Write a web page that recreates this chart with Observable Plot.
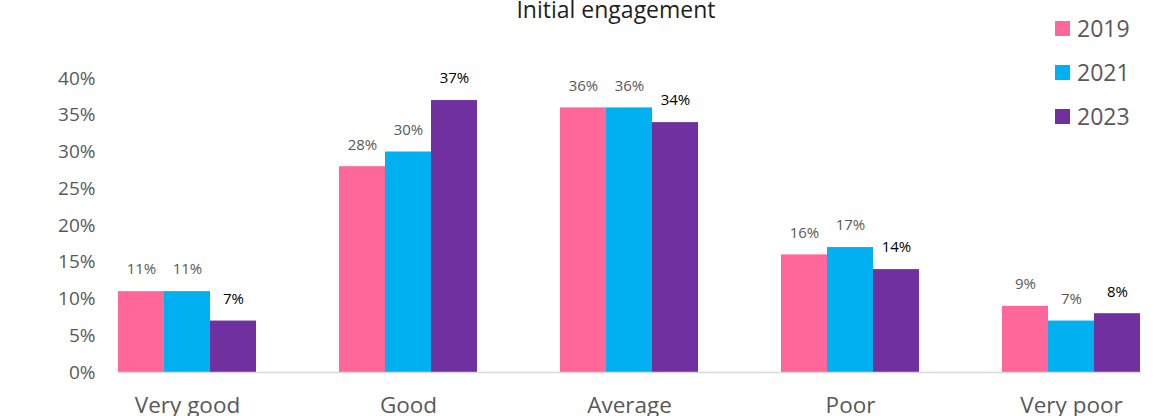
<!DOCTYPE html>
<html>
<head>
<meta charset="utf-8">
<script src="https://cdn.jsdelivr.net/npm/d3@7"></script>
<script src="https://cdn.jsdelivr.net/npm/@observablehq/plot@0.6"></script>
<style>
  html, body { margin: 0; padding: 0; background: #fff; }
  #wrap { position: relative; width: 1174px; height: 416px; overflow: hidden; font-family: "Open Sans", sans-serif; }
  #title { position: absolute; top: -2.5px; left: 616px; transform: translateX(-50%); font-size: 23px; line-height: 23px; color: #1f1f1f; white-space: nowrap; }
  #legend { position: absolute; top: 6.5px; left: 1055px; }
  .row { display: flex; align-items: center; height: 44px; }
  .sw { width: 15px; height: 15px; margin-right: 7px; }
  .lab { font-size: 23px; line-height: 23px; color: #595959; }
  #chart { position: absolute; left: 0; top: 0; }
</style>
</head>
<body>
<div id="wrap">
  <div id="chart"></div>
  <div id="title">Initial engagement</div>
  <div id="legend"></div>
</div>
<script>
const categories = ["Very good", "Good", "Average", "Poor", "Very poor"];
const years = ["2019", "2021", "2023"];
const values2019 = [11, 28, 36, 16, 9];
const values2021 = [11, 30, 36, 17, 7];
const values2023 = [7, 37, 34, 14, 8];
const yTicks = [0, 5, 10, 15, 20, 25, 30, 35, 40];
const colors = ["#FF6699", "#00B0F0", "#7030A0"];

const series = [values2019, values2021, values2023];
const data = [];
categories.forEach((c, i) => {
  years.forEach((yr, j) => data.push({category: c, year: yr, value: series[j][i]}));
});

const grey = "#595959";

const chart = Plot.plot({
  width: 1174,
  height: 416,
  marginLeft: 75,
  marginRight: -8.5,
  marginTop: 78,
  marginBottom: 44,
  style: {fontFamily: "Open Sans, sans-serif", background: "transparent", overflow: "visible"},
  fx: {domain: categories, paddingInner: 0.377, paddingOuter: 0.19, label: null},
  x: {domain: years, padding: 0, axis: null},
  y: {domain: [0, 40], label: null},
  color: {domain: years, range: colors},
  marks: [
    Plot.axisY({ticks: yTicks, tickFormat: d => d + "%", tickSize: 0, tickPadding: 23, fontSize: 19, fill: grey, label: null}),
    Plot.axisFx({anchor: "bottom", tickSize: 0, tickPadding: 25, fontSize: 22.5, fill: grey, label: null}),
    Plot.barY(data, {fx: "category", x: "year", y: "value", fill: "year"}),
    Plot.frame({anchor: "bottom", stroke: "#d9d9d9", strokeWidth: 1.3, facet: "super"}),
    Plot.text(data, {fx: "category", x: "year", y: "value", text: d => d.value + "%", dy: -22, fontSize: 15,
      fill: d => d.year === "2023" ? "#000" : grey})
  ]
});
document.getElementById("chart").appendChild(chart);

const legend = document.getElementById("legend");
years.forEach((yr, j) => {
  const row = document.createElement("div");
  row.className = "row";
  const sw = document.createElement("div");
  sw.className = "sw";
  sw.style.background = colors[j];
  const lab = document.createElement("div");
  lab.className = "lab";
  lab.textContent = yr;
  row.appendChild(sw);
  row.appendChild(lab);
  legend.appendChild(row);
});
</script>
</body>
</html>
